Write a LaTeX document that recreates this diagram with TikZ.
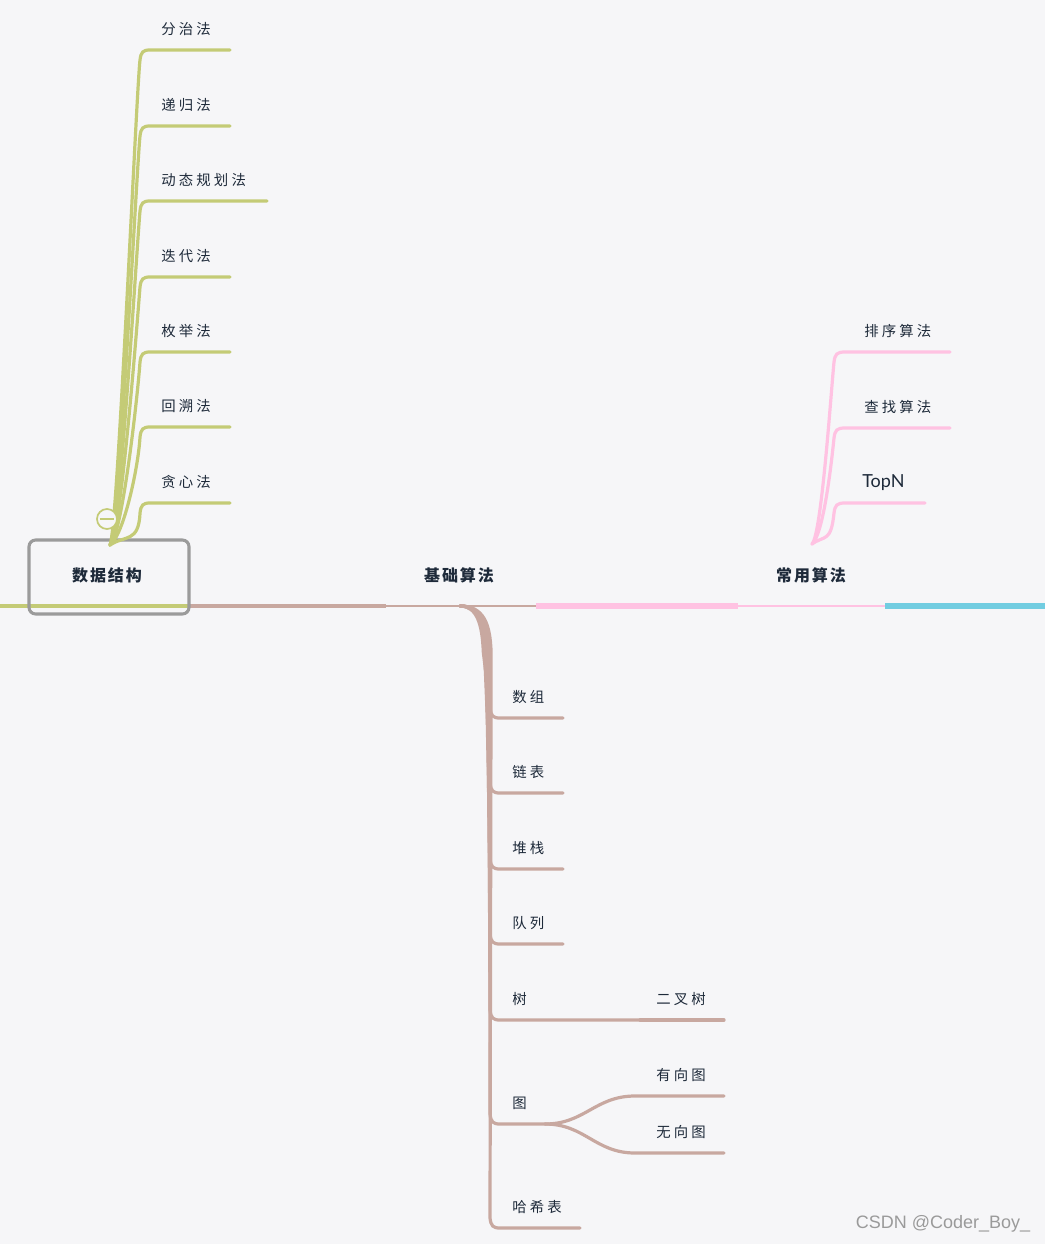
\documentclass[tikz,border=0pt]{standalone}
\usepackage{fontspec}
\setmainfont{Noto Sans CJK SC}
\newfontfamily\cjk[LetterSpace=22]{Noto Sans CJK SC}
\newfontfamily\cjkroot[LetterSpace=12]{Noto Sans CJK SC}
\newfontfamily\latinf{Lato}
\newfontfamily\wmf{Liberation Sans}
\definecolor{bgc}{HTML}{F6F6F8}
\definecolor{grn}{HTML}{C4CB76}
\definecolor{brn}{HTML}{C8A8A0}
\definecolor{pnk}{HTML}{FFC2E2}
\definecolor{cyn}{HTML}{72CDE1}
\definecolor{txt}{HTML}{1E2A3A}
\definecolor{boxg}{HTML}{9B9B9B}
\definecolor{wmc}{HTML}{9A9A9A}
\begin{document}
\begin{tikzpicture}[x=0.75pt,y=-0.75pt,
  leaf/.style={anchor=west, inner sep=0pt, text=txt, font=\cjk\fontsize{10.8}{13}\selectfont},
  rootlbl/.style={inner sep=0pt, text=txt, font=\cjkroot\bfseries\fontsize{12}{14}\selectfont},
  gline/.style={draw=grn, line width=2.4pt, line cap=round},
  bline/.style={draw=brn, line width=2.4pt, line cap=round},
  pline/.style={draw=pnk, line width=2.4pt, line cap=round},
  dsbox/.style={draw=boxg, line width=2.3pt, rounded corners=5pt, minimum width=120pt, minimum height=55.5pt, inner sep=0pt}
]
\fill[bgc] (0,0) rectangle (1045,1244);
\useasboundingbox (0,0) rectangle (1045,1244);

% ---- main line ----
\coordinate (m0) at (0,606);
\coordinate (m1) at (188,606);
\coordinate (m2) at (386,606);
\coordinate (m3) at (536,606);
\coordinate (m4) at (738,606);
\coordinate (m5) at (885,606);
\coordinate (m6) at (1045,606);
\draw[draw=grn, line width=3.4pt] (m0) -- (m1);
\draw[draw=brn, line width=3.4pt] (m1) -- (m2);
\draw[draw=brn, line width=2.2pt] (m2) -- (m3);
\draw[draw=pnk, line width=3.8pt] (m3) -- (m4);
\draw[draw=pnk, line width=2.2pt] (m4) -- (m5);
\draw[draw=cyn, line width=3.8pt] (m5) -- (m6);

% ---- root labels ----
\node[dsbox] (dsb) at (109,577) {};
\node[rootlbl] (ds) at (107,575) {数据结构};
\node[rootlbl] (jc) at (459,575) {基础算法};
\node[rootlbl] (cy) at (811,575) {常用算法};

% ---- green branches ----
\coordinate (groot) at (110,545);
\foreach \i/\y/\t/\e in {1/50/分治法/230, 2/126/递归法/230, 3/201/动态规划法/267, 4/277/迭代法/230, 5/352/枚举法/230, 6/427/回溯法/230, 7/503/贪心法/230}{
  \node[leaf] (g\i) at (161,\y-21) {\t};
  \coordinate (ge\i) at (\e,\y);
  \draw[gline] (groot) .. controls (116+1.3*\i,535) and (136+0.4*\i,\y+40) .. (140,\y+10)
     .. controls (141,\y+2) and (143,\y) .. (150,\y) -- (ge\i);
}
\node[draw=grn, line width=1.3pt, circle, minimum size=15pt, inner sep=0pt, fill=bgc] (coll) at (107,519) {};
\draw[draw=grn, line width=1.3pt] ([xshift=-5.5pt]coll.center) -- ([xshift=5.5pt]coll.center);

% ---- brown branches ----
\coordinate (broot) at (460,606);
\foreach \i/\y/\t/\e in {1/718/数组/563, 2/793/链表/563, 3/869/堆栈/563, 4/944/队列/563, 5/1020/树/640, 6/1124/图/545, 7/1228/哈希表/580}{
  \node[leaf] (b\i) at (512,\y-21) {\t};
  \coordinate (be\i) at (\e,\y);
  \draw[bline] (broot) .. controls (476+1.2*\i,606) and (481+1.3*\i,625) .. (482+1.3*\i,652) -- (490,\y-10)
     .. controls (491,\y-2) and (493,\y) .. (500,\y) -- (be\i);
}
% tree children
\node[leaf] (ecs) at (656,999) {二叉树};
\coordinate (ecse) at (724,1020);
\draw[bline] (be5) -- (ecse);
\node[leaf] (yxt) at (656,1075) {有向图};
\node[leaf] (wxt) at (656,1132) {无向图};
\coordinate (yxte) at (724,1096);
\coordinate (wxte) at (724,1153);
\draw[bline] (be6) .. controls (585,1124) and (595,1096) .. (635,1096) -- (yxte);
\draw[bline] (be6) .. controls (585,1124) and (595,1153) .. (635,1153) -- (wxte);

% ---- pink branches ----
\coordinate (proot) at (812,544);
\foreach \i/\y/\e in {1/352/950, 2/428/950, 3/503/925}{
  \coordinate (pe\i) at (\e,\y);
  \draw[pline] (proot) .. controls (820+1.5*\i,535) and (831,\y+40) .. (834,\y+10)
     .. controls (835,\y+2) and (837,\y) .. (845,\y) -- (pe\i);
}
\node[leaf] (p1) at (864,331) {排序算法};
\node[leaf] (p2) at (864,407) {查找算法};
\node[anchor=west, inner sep=0pt, text=txt, font=\latinf\fontsize{13.5}{16}\selectfont] (p3) at (862,483) {TopN};

% ---- watermark ----
\node[inner sep=0pt, text=wmc, font=\wmf\fontsize{13.5}{16}\selectfont] (wm) at (943,1224) {CSDN @Coder\_Boy\_};
\end{tikzpicture}
\end{document}
